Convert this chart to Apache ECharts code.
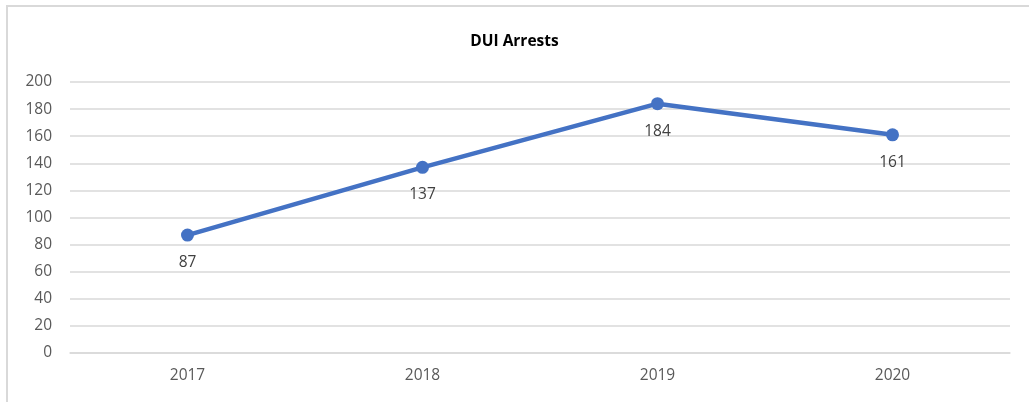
<!DOCTYPE html>
<html>
<head>
<meta charset="utf-8">
<script src="https://cdn.jsdelivr.net/npm/echarts@6/dist/echarts.min.js"></script>
<style>
html, body { margin: 0; padding: 0; background: #fff; }
#chart { width: 1029px; height: 402px; }
</style>
</head>
<body>
<div id="chart"></div>
<script>
const years = ['2017', '2018', '2019', '2020']
const arrests = [87, 137, 184, 161]

const chart = echarts.init(document.getElementById('chart'))
const font = "'Open Sans', 'Liberation Sans', sans-serif"

chart.setOption({
    animation: false,
    title: {
        text: 'DUI Arrests',
        left: 'center',
        top: 29,
        textStyle: { fontFamily: font, fontSize: 15.5, fontWeight: 'bold', color: '#000' },
    },
    graphic: [
        {
            type: 'rect',
            shape: { x: 7, y: 6, width: 1040, height: 420 },
            style: { fill: 'none', stroke: '#d9d9d9', lineWidth: 2 },
            silent: true,
        },
    ],
    grid: { left: 70, right: 19, top: 82, bottom: 49 },
    xAxis: {
        type: 'category',
        data: years,
        boundaryGap: true,
        axisLine: { lineStyle: { color: '#d9d9d9', width: 1.5 } },
        axisTick: { show: false },
        axisLabel: { color: '#595959', fontFamily: font, fontSize: 15.5, margin: 15 },
    },
    yAxis: {
        type: 'value',
        min: 0,
        max: 200,
        interval: 20,
        axisLine: { show: false },
        axisTick: { show: false },
        axisLabel: { color: '#595959', fontFamily: font, fontSize: 15.5, margin: 18 },
        splitLine: { lineStyle: { color: '#d9d9d9', width: 1.5 } },
    },
    series: [
        {
            type: 'line',
            data: arrests,
            symbol: 'circle',
            symbolSize: 13,
            lineStyle: { color: '#4472c4', width: 4.5 },
            itemStyle: { color: '#4472c4' },
            label: {
                show: true,
                position: 'bottom',
                distance: 13,
                color: '#404040',
                fontFamily: font,
                fontSize: 15.5,
            },
        },
    ],
})
</script>
</body>
</html>
